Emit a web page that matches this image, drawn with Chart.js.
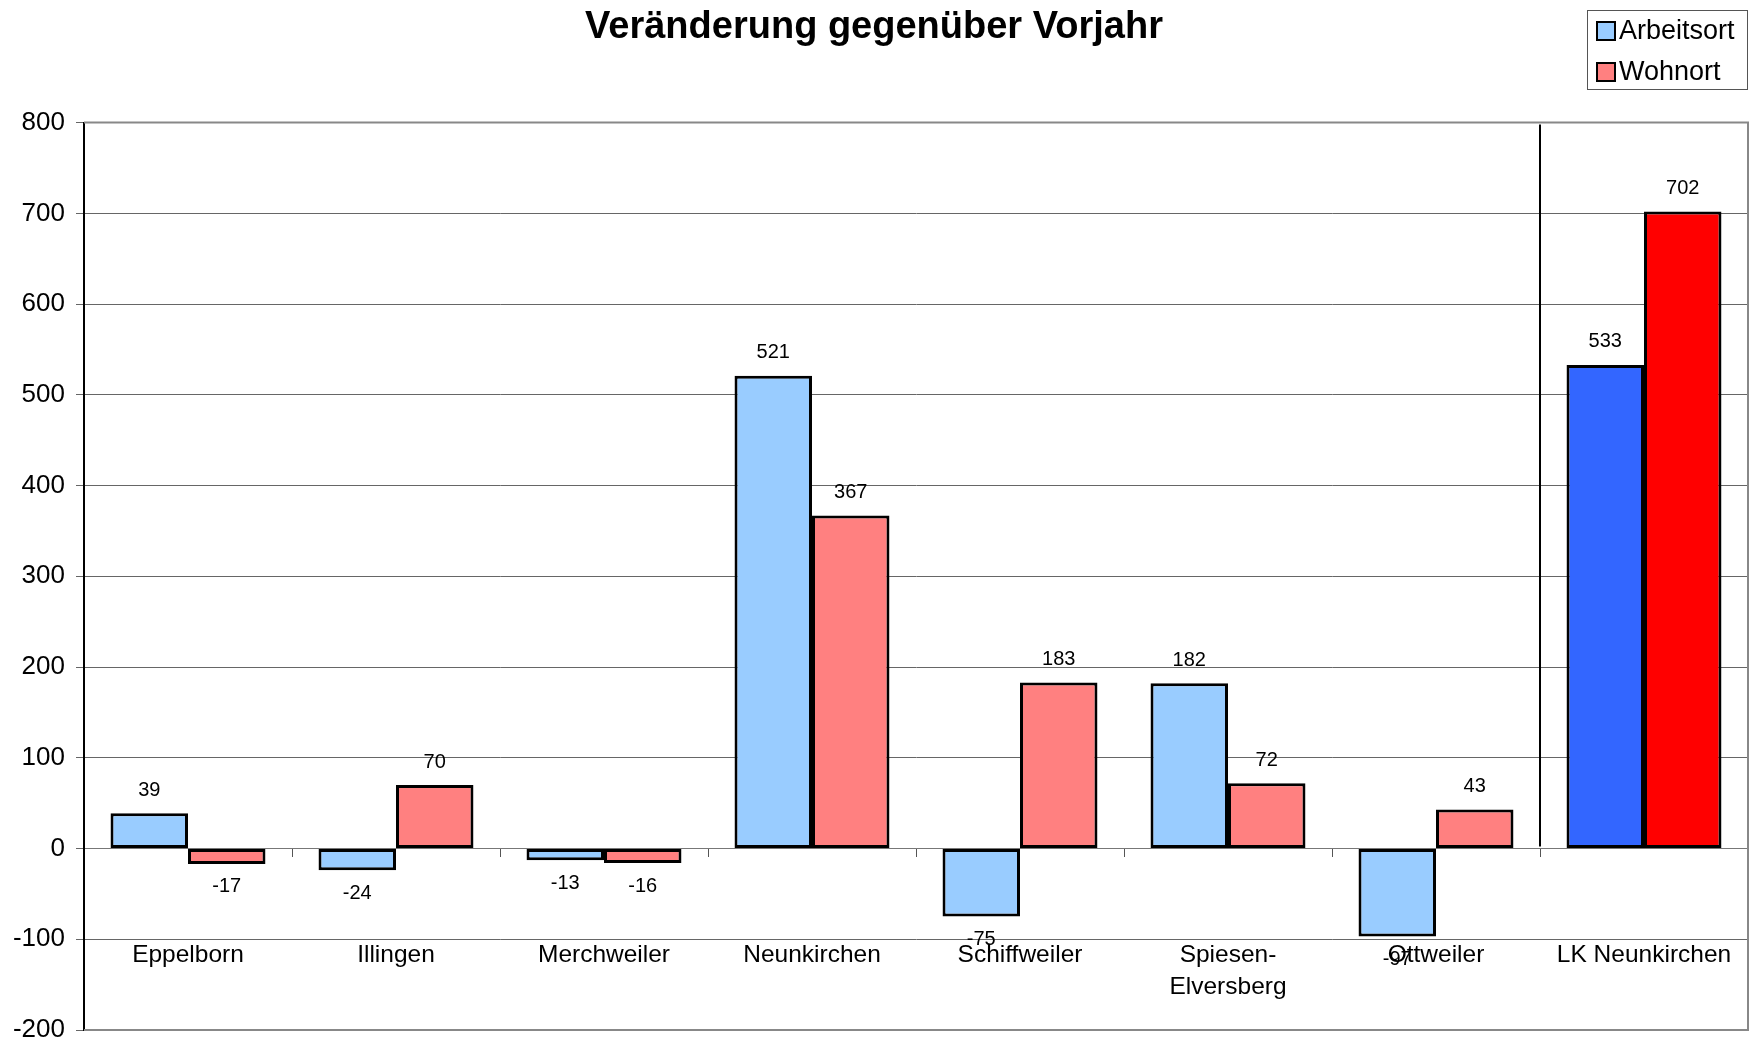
<!DOCTYPE html>
<html>
<head>
<meta charset="utf-8">
<script src="https://cdn.jsdelivr.net/npm/chart.js@4"></script>
<style>
  body { margin: 0; background: #fff; }
  canvas { display: block; }
</style>
</head>
<body>
<canvas id="chart" width="1754" height="1045"></canvas>
<script>
const categories = ['Eppelborn', 'Illingen', 'Merchweiler', 'Neunkirchen', 'Schiffweiler', ['Spiesen-', 'Elversberg'], 'Ottweiler', 'LK Neunkirchen'];
const arbeitsort = [39, -24, -13, 521, -75, 182, -97, 533];
const wohnort = [-17, 70, -16, 367, 183, 72, 43, 702];
const yTicks = [-200, -100, 0, 100, 200, 300, 400, 500, 600, 700, 800];

const FONT = "'Liberation Sans', Arial, sans-serif";
const lightBlue = '#99CCFF', salmon = '#FF8080';
const blue = '#3366FF', red = '#FF0000';

// extra drawing: value labels, separator before the Landkreis total, plot frame, legend box
const extras = {
  id: 'extras',
  afterDatasetsDraw(chart) {
    const ctx = chart.ctx;
    const area = chart.chartArea;
    const x = chart.scales.x, y = chart.scales.y;

    ctx.save();
    // frame top + right
    ctx.strokeStyle = '#888';
    ctx.lineWidth = 2;
    ctx.beginPath();
    ctx.moveTo(area.left, area.top);
    ctx.lineTo(area.right, area.top);
    ctx.lineTo(area.right, area.bottom);
    ctx.lineTo(area.left, area.bottom);
    ctx.stroke();

    // separator line
    const sx = (x.getPixelForValue(6) + x.getPixelForValue(7)) / 2;
    ctx.strokeStyle = '#000';
    ctx.lineWidth = 2;
    ctx.beginPath();
    ctx.moveTo(sx, area.top + 2);
    ctx.lineTo(sx, y.getPixelForValue(0) - 2);
    ctx.stroke();

    // value labels
    ctx.fillStyle = '#000';
    ctx.font = '20px ' + FONT;
    ctx.textAlign = 'center';
    ctx.textBaseline = 'middle';
    chart.data.datasets.forEach((ds, di) => {
      chart.getDatasetMeta(di).data.forEach((bar, i) => {
        const v = ds.data[i];
        const ly = v >= 0 ? bar.y - 23 : bar.y + 23;
        ctx.fillText(String(v), bar.x, ly);
      });
    });

    // legend
    const lx = 1587, ly = 10, lw = 160, lh = 79;
    ctx.strokeStyle = '#555';
    ctx.lineWidth = 1;
    ctx.strokeRect(lx + 0.5, ly + 0.5, lw, lh);
    ctx.font = '27px ' + FONT;
    ctx.textAlign = 'left';
    chart.data.datasets.forEach((ds, di) => {
      const cy = ly + 21 + di * 41;
      ctx.fillStyle = ds.backgroundColor[0];
      ctx.fillRect(lx + 10, cy - 9, 18, 18);
      ctx.strokeStyle = '#000';
      ctx.lineWidth = 2;
      ctx.strokeRect(lx + 10, cy - 9, 18, 18);
      ctx.fillStyle = '#000';
      ctx.fillText(ds.label, lx + 32, cy + 1);
    });
    ctx.restore();
  }
};

new Chart(document.getElementById('chart'), {
  type: 'bar',
  data: {
    labels: categories,
    datasets: [
      {
        label: 'Arbeitsort',
        data: arbeitsort,
        backgroundColor: arbeitsort.map((v, i) => i === 7 ? blue : lightBlue),
        borderColor: '#000',
        borderWidth: 3,
        borderSkipped: false
      },
      {
        label: 'Wohnort',
        data: wohnort,
        backgroundColor: wohnort.map((v, i) => i === 7 ? red : salmon),
        borderColor: '#000',
        borderWidth: 3,
        borderSkipped: false
      }
    ]
  },
  options: {
    responsive: false,
    animation: false,
    categoryPercentage: 0.745,
    barPercentage: 1,
    layout: { padding: { left: 0, right: 6, top: 0, bottom: 15 } },
    plugins: {
      legend: { display: false },
      tooltip: { enabled: false },
      title: {
        display: true,
        text: 'Veränderung gegenüber Vorjahr',
        color: '#000',
        font: { family: FONT, size: 38, weight: 'bold' },
        padding: { top: 5, bottom: 72 }
      }
    },
    scales: {
      x: {
        type: 'category',
        position: { y: 0 },
        offset: true,
        grid: { offset: true, drawOnChartArea: false, tickLength: 8, color: '#555' },
        border: { display: true, color: '#777', width: 1 },
        ticks: { display: false }
      },
      x2: {
        type: 'category',
        position: { y: -100 },
        offset: true,
        grid: { display: false, drawTicks: false },
        border: { display: false },
        ticks: {
          color: '#000',
          padding: 0,
          maxRotation: 0,
          autoSkip: false,
          font: { family: FONT, size: 24.5, lineHeight: 1.3 }
        }
      },
      y: {
        min: -200,
        max: 800,
        afterBuildTicks(scale) { scale.ticks = yTicks.map(v => ({ value: v })); },
        afterFit(scale) {
          scale.width = 84;
          // let title/padding decide the plot edges, not the tick label overhang
          scale.paddingTop = 0;
          scale.paddingBottom = 0;
        },
        grid: { color: '#666', lineWidth: 1, tickLength: 8 },
        border: { color: '#000', width: 2 },
        ticks: {
          color: '#000',
          padding: 11,
          font: { family: FONT, size: 26 }
        }
      }
    }
  },
  plugins: [extras]
});
</script>
</body>
</html>
